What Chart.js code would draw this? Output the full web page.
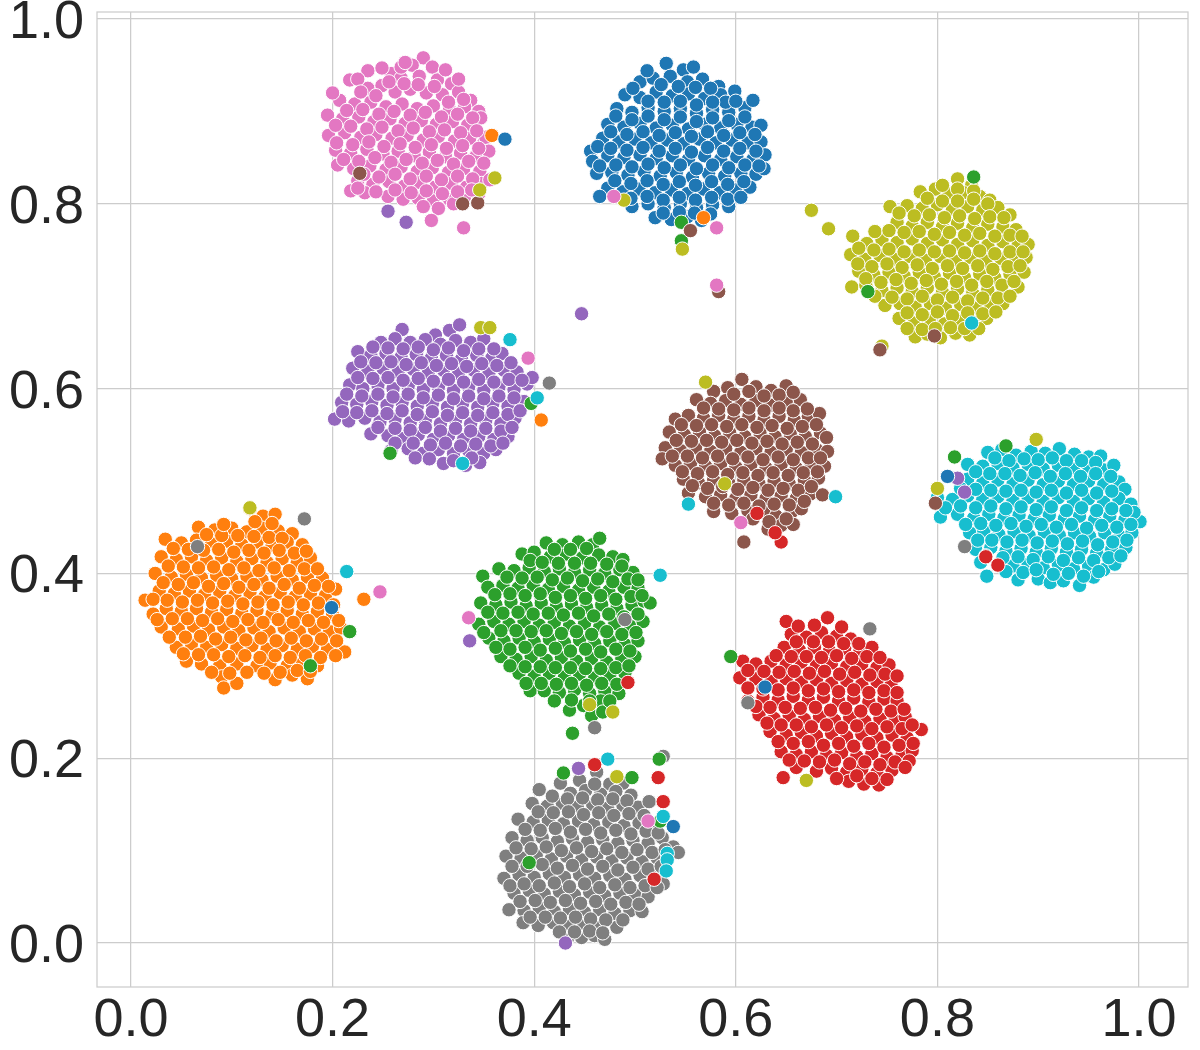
<!DOCTYPE html>
<html lang="en">
<head>
<meta charset="UTF-8">
<title>Cluster scatter</title>
<script src="https://cdn.jsdelivr.net/npm/chart.js"></script>
<style>
  html, body { margin: 0; padding: 0; background: #fff; }
  #wrap { width: 1200px; height: 1050px; }
</style>
</head>
<body>
<div id="wrap"><canvas id="chart" width="1200" height="1050"></canvas></div>
<script>
const xTicks = [0, 0.2, 0.4, 0.6, 0.8, 1.0];
const yTicks = [0, 0.2, 0.4, 0.6, 0.8, 1.0];

// main blobs
const pinkPts = [[.290,.958],[.279,.950],[.299,.948],[.258,.941],[.268,.936],[.286,.938],[.304,.934],[.318,.930],
[.217,.934],[.235,.925],[.249,.928],[.262,.921],[.277,.924],[.293,.920],[.309,.918],[.325,.921],[.337,.912],
[.207,.912],[.222,.908],[.238,.910],[.253,.905],[.269,.908],[.284,.903],[.300,.906],[.316,.902],[.331,.905],[.345,.900],
[.195,.896],[.210,.892],[.226,.894],[.241,.889],[.257,.892],[.272,.887],[.288,.890],[.303,.886],[.319,.889],[.334,.885],[.347,.893],
[.196,.874],[.212,.877],[.228,.872],[.243,.875],[.259,.871],[.274,.874],[.290,.869],[.305,.873],[.321,.868],[.336,.871],[.350,.866],[.352,.872],
[.203,.858],[.218,.855],[.234,.859],[.250,.854],[.265,.857],[.281,.852],[.296,.856],[.312,.851],[.327,.855],[.342,.851],[.355,.857],
[.205,.842],[.221,.838],[.237,.841],[.253,.837],[.268,.840],[.284,.835],[.299,.839],[.315,.834],[.330,.838],[.346,.835],
[.225,.825],[.240,.821],[.256,.824],[.271,.819],[.287,.823],[.302,.818],[.318,.822],[.333,.818],[.348,.822],[.356,.826],
[.218,.814],[.232,.812],[.255,.808],[.270,.805],[.285,.806],[.300,.803],[.316,.805],[.331,.808],[.345,.811],[.290,.797],[.305,.795],[.320,.800]];
const pinkFill = [[.235,.944],[.249,.947],[.200,.920],[.225,.935],[.268,.948],[.272,.953],[.312,.945],[.325,.935],
[.228,.921],[.243,.917],[.256,.932],[.271,.930],[.285,.929],[.301,.927],[.315,.910],[.330,.913],
[.214,.901],[.230,.902],[.246,.897],[.261,.900],[.277,.896],[.292,.899],[.308,.894],[.324,.897],[.339,.893],
[.203,.885],[.218,.884],[.234,.881],[.249,.883],[.265,.879],[.280,.882],[.296,.878],[.311,.880],[.327,.877],[.343,.879],
[.204,.866],[.220,.864],[.236,.867],[.251,.862],[.267,.865],[.282,.861],[.298,.864],[.313,.860],[.329,.863],[.345,.860],
[.211,.848],[.226,.846],[.242,.850],[.258,.845],[.273,.848],[.289,.844],[.304,.847],[.320,.843],[.335,.846],[.350,.844],
[.231,.832],[.246,.829],[.262,.832],[.277,.827],[.293,.830],[.308,.826],[.324,.830],[.339,.827],
[.225,.817],[.243,.813],[.262,.815],[.278,.812],[.293,.814],[.309,.811],[.324,.813],[.338,.815]];

const bluePts = [[.531,.952],[.548,.945],[.558,.948],[.505,.932],[.518,.936],[.535,.938],[.552,.932],[.567,.935],[.583,.927],
[.490,.918],[.505,.915],[.521,.921],[.537,.917],[.553,.919],[.569,.914],[.585,.918],[.599,.922],
[.482,.903],[.497,.899],[.513,.904],[.529,.900],[.545,.903],[.561,.898],[.577,.902],[.593,.899],[.609,.904],[.617,.912],
[.473,.886],[.489,.883],[.505,.887],[.521,.882],[.537,.885],[.553,.881],[.569,.886],[.585,.882],[.601,.886],[.616,.883],[.625,.885],
[.468,.871],[.484,.867],[.500,.870],[.516,.866],[.532,.869],[.548,.865],[.564,.870],[.580,.866],[.596,.869],[.612,.866],[.625,.867],
[.456,.857],[.458,.846],[.473,.852],[.489,.850],[.505,.853],[.521,.849],[.537,.852],[.553,.848],[.569,.852],[.585,.848],[.601,.851],[.617,.848],[.629,.853],
[.462,.833],[.477,.834],[.493,.831],[.509,.835],[.525,.830],[.541,.834],[.557,.829],[.573,.833],[.589,.830],[.605,.833],[.620,.832],[.628,.838],
[.473,.817],[.488,.813],[.504,.816],[.520,.812],[.536,.815],[.552,.811],[.568,.816],[.584,.812],[.600,.815],[.614,.818],
[.465,.808],[.497,.797],[.513,.800],[.529,.796],[.545,.800],[.561,.796],[.577,.799],[.593,.797],[.520,.785],[.536,.783],[.552,.786],[.566,.782]];
const blueFill = [[.512,.944],[.526,.929],[.543,.927],[.560,.926],[.575,.925],[.590,.910],
[.498,.925],[.513,.911],[.529,.910],[.545,.911],[.561,.907],[.577,.910],[.600,.911],
[.481,.895],[.497,.891],[.513,.895],[.529,.891],[.545,.894],[.561,.889],[.577,.893],[.593,.890],[.609,.894],
[.476,.878],[.492,.875],[.508,.878],[.524,.874],[.540,.877],[.556,.873],[.572,.878],[.588,.874],[.604,.877],[.619,.875],
[.463,.862],[.476,.860],[.492,.858],[.508,.861],[.524,.857],[.540,.860],[.556,.856],[.572,.861],[.588,.857],[.604,.860],[.620,.857],
[.465,.841],[.481,.842],[.497,.840],[.513,.843],[.529,.839],[.545,.842],[.561,.838],[.577,.842],[.593,.839],[.609,.842],[.623,.841],
[.480,.825],[.496,.822],[.512,.825],[.528,.821],[.544,.824],[.560,.820],[.576,.824],[.592,.821],[.608,.824],
[.496,.806],[.512,.808],[.528,.804],[.544,.807],[.560,.804],[.576,.807],[.592,.805],[.605,.807],
[.528,.790],[.544,.791],[.559,.790],[.575,.789]];

const olivePts = [[.820,.827],[.834,.820],[.783,.813],[.798,.816],[.812,.811],[.826,.812],[.842,.808],[.852,.804],
[.753,.797],[.770,.798],[.785,.795],[.800,.799],[.815,.794],[.830,.797],[.845,.793],[.860,.796],[.872,.788],
[.760,.780],[.775,.776],[.790,.780],[.805,.775],[.820,.779],[.835,.774],[.850,.778],[.865,.775],[.878,.772],
[.716,.765],[.730,.757],[.745,.761],[.760,.758],[.775,.762],[.790,.757],[.805,.761],[.820,.756],[.835,.760],[.850,.755],[.865,.759],[.880,.755],[.890,.756],
[.714,.745],[.728,.740],[.743,.744],[.758,.740],[.773,.743],[.788,.739],[.803,.743],[.818,.738],[.833,.742],[.848,.738],[.863,.741],[.878,.738],[.888,.742],
[.722,.727],[.737,.723],[.752,.726],[.767,.722],[.782,.726],[.797,.721],[.812,.725],[.827,.720],[.842,.724],[.857,.720],[.872,.724],[.886,.726],
[.715,.710],[.729,.712],[.745,.706],[.760,.709],[.775,.705],[.790,.709],[.805,.704],[.820,.708],[.835,.703],[.850,.707],[.865,.703],[.880,.710],
[.748,.690],[.763,.692],[.778,.688],[.793,.692],[.808,.687],[.823,.691],[.838,.687],[.853,.690],[.865,.692],
[.762,.676],[.777,.671],[.792,.675],[.807,.670],[.822,.674],[.837,.671],[.849,.676],
[.778,.656],[.790,.659],[.803,.655],[.818,.660],[.832,.658],[.675,.793],[.692,.773],[.745,.646]];
const oliveFill = [[.805,.820],[.820,.816],[.836,.814],[.790,.806],[.805,.803],[.820,.803],[.836,.805],[.850,.800],
[.762,.790],[.777,.787],[.792,.788],[.807,.785],[.822,.787],[.837,.784],[.852,.786],[.866,.785],
[.738,.770],[.752,.771],[.767,.769],[.782,.770],[.797,.767],[.812,.769],[.827,.766],[.842,.768],[.857,.765],[.872,.766],[.884,.765],
[.722,.752],[.737,.750],[.752,.751],[.767,.748],[.782,.750],[.797,.748],[.812,.749],[.827,.747],[.842,.749],[.857,.746],[.872,.748],[.885,.748],
[.721,.735],[.735,.732],[.750,.735],[.765,.731],[.780,.734],[.795,.730],[.810,.733],[.825,.730],[.840,.733],[.855,.729],[.870,.732],[.882,.733],
[.729,.719],[.744,.715],[.759,.718],[.774,.714],[.789,.717],[.804,.713],[.819,.716],[.834,.712],[.849,.716],[.864,.712],[.876,.716],
[.738,.700],[.755,.699],[.770,.697],[.785,.700],[.800,.696],[.815,.699],[.830,.695],[.845,.698],[.860,.698],[.872,.700],
[.770,.682],[.785,.680],[.800,.683],[.815,.679],[.830,.682],[.845,.681],[.858,.683],
[.770,.665],[.785,.664],[.798,.665],[.813,.666],[.827,.665],[.841,.665]];

const purplePts = [[.269,.664],[.316,.663],[.326,.669],[.302,.658],[.248,.650],[.262,.654],[.277,.650],[.292,.653],[.307,.648],[.322,.652],[.337,.650],[.350,.654],
[.225,.640],[.238,.636],[.253,.638],[.268,.634],[.283,.637],[.298,.633],[.313,.636],[.328,.632],[.343,.636],[.358,.633],[.368,.638],
[.220,.622],[.235,.619],[.250,.622],[.265,.618],[.280,.621],[.295,.617],[.310,.620],[.325,.616],[.340,.620],[.355,.616],[.370,.620],[.383,.618],
[.217,.604],[.230,.600],[.245,.604],[.260,.600],[.275,.603],[.290,.599],[.305,.602],[.320,.598],[.335,.602],[.350,.598],[.365,.602],[.380,.599],[.393,.605],[.398,.612],
[.209,.585],[.224,.583],[.239,.586],[.254,.582],[.269,.585],[.284,.581],[.299,.584],[.314,.580],[.329,.584],[.344,.580],[.359,.584],[.374,.581],[.390,.586],
[.202,.567],[.216,.565],[.232,.568],[.247,.564],[.262,.567],[.277,.563],[.292,.566],[.307,.562],[.322,.566],[.337,.562],[.352,.566],[.367,.562],[.381,.568],
[.238,.551],[.255,.549],[.270,.546],[.285,.550],[.300,.545],[.315,.549],[.330,.545],[.345,.548],[.360,.545],[.374,.548],
[.258,.533],[.275,.535],[.290,.530],[.305,.534],[.320,.530],[.335,.533],[.350,.530],[.362,.534],[.282,.525],[.310,.519],[.332,.517],[.346,.520],[.447,.681]];
const purpleFill = [[.240,.645],[.255,.644],[.270,.643],[.285,.645],[.300,.642],[.315,.644],[.330,.641],[.345,.643],[.360,.643],
[.228,.629],[.243,.628],[.258,.629],[.273,.626],[.288,.628],[.303,.625],[.318,.627],[.333,.624],[.348,.627],[.363,.625],[.377,.628],
[.225,.612],[.240,.611],[.255,.612],[.270,.609],[.285,.611],[.300,.608],[.315,.610],[.330,.607],[.345,.610],[.360,.607],[.375,.610],[.388,.609],
[.214,.594],[.229,.592],[.245,.594],[.260,.591],[.275,.594],[.290,.590],[.305,.593],[.320,.589],[.335,.592],[.350,.589],[.365,.592],[.380,.590],
[.210,.575],[.224,.574],[.239,.576],[.254,.573],[.269,.576],[.284,.572],[.299,.575],[.314,.571],[.329,.574],[.344,.571],[.359,.574],[.374,.572],[.386,.576],
[.245,.558],[.262,.557],[.277,.555],[.292,.558],[.307,.554],[.322,.557],[.337,.554],[.352,.557],[.367,.554],[.378,.558],
[.262,.541],[.280,.541],[.297,.539],[.312,.541],[.327,.538],[.342,.540],[.357,.538],[.369,.541],
[.296,.524],[.320,.522],[.338,.525]];

const brownPts = [[.578,.597],[.592,.601],[.606,.610],[.620,.602],[.635,.598],[.650,.603],
[.561,.588],[.575,.584],[.590,.587],[.605,.583],[.620,.587],[.635,.582],[.650,.586],[.664,.588],
[.540,.567],[.553,.571],[.568,.568],[.583,.571],[.598,.567],[.613,.570],[.628,.566],[.643,.570],[.658,.566],[.672,.570],[.683,.573],
[.534,.553],[.549,.550],[.564,.553],[.579,.549],[.594,.552],[.609,.548],[.624,.552],[.639,.548],[.654,.551],[.669,.548],[.684,.552],[.690,.547],
[.530,.536],[.545,.533],[.560,.536],[.575,.532],[.590,.535],[.605,.531],[.620,.535],[.635,.531],[.650,.534],[.665,.531],[.680,.534],[.691,.532],
[.527,.524],[.540,.517],[.555,.519],[.570,.516],[.585,.519],[.600,.515],[.615,.518],[.630,.514],[.645,.518],[.660,.514],[.675,.518],[.688,.516],
[.548,.502],[.563,.498],[.578,.501],[.593,.498],[.608,.501],[.623,.497],[.638,.500],[.653,.497],[.668,.501],[.682,.503],
[.553,.487],[.570,.483],[.585,.485],[.600,.481],[.615,.485],[.630,.481],[.645,.484],[.660,.481],[.674,.486],[.686,.485],
[.578,.467],[.596,.465],[.612,.468],[.628,.466],[.640,.462],[.655,.466],[.665,.470],[.645,.452],[.657,.453],[.632,.448],[.608,.434]];
const brownFill = [[.598,.594],[.613,.597],[.628,.592],[.643,.593],[.657,.596],
[.568,.579],[.583,.578],[.598,.577],[.613,.579],[.628,.576],[.643,.579],[.657,.576],[.671,.578],
[.546,.561],[.561,.560],[.576,.561],[.591,.559],[.606,.561],[.621,.558],[.636,.560],[.651,.557],[.666,.559],[.680,.561],
[.541,.544],[.556,.543],[.571,.544],[.586,.542],[.601,.544],[.616,.541],[.631,.543],[.646,.540],[.661,.542],[.676,.540],
[.537,.527],[.552,.527],[.567,.525],[.582,.527],[.597,.524],[.612,.526],[.627,.523],[.642,.526],[.657,.523],[.672,.525],[.684,.525],
[.547,.510],[.562,.508],[.577,.510],[.592,.507],[.607,.509],[.622,.506],[.637,.509],[.652,.506],[.667,.509],[.681,.510],
[.557,.495],[.572,.492],[.587,.494],[.602,.491],[.617,.493],[.632,.490],[.647,.492],[.662,.490],[.675,.494],
[.578,.476],[.593,.474],[.608,.476],[.623,.473],[.638,.475],[.653,.474],[.668,.478],
[.617,.459],[.633,.456],[.650,.459]];

const cyanPts = [[.850,.531],[.864,.534],[.878,.528],[.893,.532],[.907,.530],[.921,.535],[.936,.529],[.950,.526],[.962,.527],
[.830,.518],[.845,.516],[.860,.519],[.875,.514],[.890,.518],[.905,.513],[.920,.517],[.935,.513],[.950,.516],[.965,.512],[.975,.517],
[.830,.502],[.845,.498],[.860,.501],[.875,.497],[.890,.501],[.905,.496],[.920,.500],[.935,.496],[.950,.500],[.965,.496],[.980,.499],[.986,.491],
[.800,.482],[.815,.480],[.830,.484],[.845,.480],[.860,.483],[.875,.479],[.890,.482],[.905,.478],[.920,.482],[.935,.478],[.950,.481],[.965,.477],[.980,.481],[.992,.475],
[.803,.461],[.820,.464],[.836,.460],[.851,.464],[.866,.460],[.881,.463],[.896,.459],[.911,.463],[.926,.459],[.941,.462],[.956,.458],[.971,.462],[.986,.458],[1.001,.456],[.995,.466],
[.832,.444],[.846,.446],[.861,.442],[.876,.445],[.891,.441],[.906,.445],[.921,.441],[.936,.444],[.951,.440],[.966,.444],[.981,.440],[.993,.444],
[.838,.426],[.853,.428],[.868,.424],[.883,.427],[.898,.423],[.913,.427],[.928,.423],[.943,.426],[.958,.422],[.973,.426],[.987,.428],
[.843,.412],[.860,.409],[.875,.408],[.890,.410],[.905,.406],[.920,.409],[.935,.405],[.950,.408],[.965,.404],[.976,.410],
[.849,.397],[.880,.393],[.900,.394],[.912,.390],[.925,.392],[.941,.387],[.955,.396]];
const cyanFill = [[.857,.525],[.871,.522],[.886,.524],[.900,.523],[.914,.525],[.928,.522],[.943,.522],[.957,.520],
[.838,.510],[.852,.508],[.867,.508],[.882,.506],[.897,.509],[.912,.505],[.927,.508],[.942,.505],[.957,.508],[.972,.505],
[.823,.492],[.838,.491],[.853,.490],[.868,.489],[.883,.490],[.898,.488],[.913,.490],[.928,.487],[.943,.490],[.958,.487],[.973,.489],
[.808,.471],[.823,.473],[.838,.471],[.853,.473],[.868,.470],[.883,.472],[.898,.469],[.913,.472],[.928,.468],[.943,.471],[.958,.468],[.973,.470],[.987,.468],
[.828,.453],[.843,.454],[.858,.452],[.873,.454],[.888,.451],[.903,.453],[.918,.450],[.933,.453],[.948,.449],[.963,.452],[.978,.450],[.992,.453],
[.840,.436],[.854,.436],[.869,.434],[.884,.436],[.899,.433],[.914,.435],[.929,.432],[.944,.435],[.959,.431],[.974,.434],[.988,.436],
[.848,.419],[.865,.417],[.880,.418],[.895,.415],[.910,.418],[.925,.414],[.940,.417],[.955,.414],[.970,.417],[.982,.419],
[.868,.402],[.885,.401],[.898,.404],[.915,.399],[.930,.400],[.945,.397],[.960,.402]];

const orangePts = [[.118,.470],[.131,.462],[.143,.464],[.067,.450],[.083,.447],[.100,.449],[.115,.445],[.130,.449],[.146,.446],[.160,.443],
[.034,.437],[.050,.433],[.065,.436],[.080,.432],[.095,.435],[.110,.431],[.125,.434],[.140,.430],[.155,.434],[.170,.431],
[.030,.418],[.045,.415],[.060,.418],[.075,.414],[.090,.417],[.105,.413],[.120,.416],[.135,.412],[.150,.416],[.165,.412],[.178,.417],
[.024,.400],[.040,.396],[.055,.399],[.070,.395],[.085,.398],[.100,.394],[.115,.397],[.130,.393],[.145,.397],[.160,.393],[.175,.396],[.190,.395],
[.028,.381],[.043,.378],[.058,.381],[.073,.377],[.088,.380],[.103,.376],[.118,.379],[.133,.375],[.148,.379],[.163,.375],[.178,.378],[.193,.376],[.203,.383],
[.014,.371],[.022,.356],[.035,.362],[.050,.359],[.065,.362],[.080,.358],[.095,.361],[.110,.357],[.125,.360],[.140,.356],[.155,.360],[.170,.356],[.185,.359],[.200,.355],[.231,.372],
[.030,.342],[.047,.340],[.062,.343],[.077,.339],[.092,.342],[.107,.338],[.122,.341],[.137,.337],[.152,.341],[.167,.337],[.182,.340],[.197,.337],[.208,.341],
[.045,.320],[.060,.324],[.075,.320],[.090,.323],[.105,.319],[.120,.322],[.135,.318],[.150,.322],[.165,.318],[.180,.321],[.195,.318],[.212,.315],
[.055,.305],[.070,.302],[.088,.300],[.105,.302],[.125,.300],[.138,.303],[.155,.300],[.170,.303],[.185,.300],
[.090,.288],[.092,.276],[.105,.281],[.143,.285],[.160,.290],[.175,.286]];
const orangeFill = [[.075,.442],[.090,.441],[.106,.441],[.122,.440],[.137,.439],[.150,.438],[.123,.456],[.140,.454],[.092,.453],
[.042,.427],[.057,.426],[.072,.425],[.087,.426],[.102,.423],[.117,.425],[.132,.422],[.147,.425],[.162,.422],[.174,.424],
[.037,.408],[.052,.407],[.067,.406],[.082,.407],[.097,.404],[.112,.406],[.127,.403],[.142,.406],[.157,.403],[.172,.405],[.185,.405],
[.032,.390],[.047,.388],[.062,.390],[.077,.386],[.092,.389],[.107,.385],[.122,.388],[.137,.384],[.152,.388],[.167,.384],[.182,.387],[.196,.386],
[.022,.372],[.036,.371],[.051,.369],[.066,.371],[.081,.368],[.096,.370],[.111,.367],[.126,.369],[.141,.366],[.156,.369],[.171,.366],[.186,.368],[.201,.366],
[.026,.350],[.041,.351],[.056,.351],[.071,.349],[.086,.351],[.101,.348],[.116,.350],[.131,.347],[.146,.350],[.161,.347],[.176,.349],[.191,.347],[.206,.349],
[.038,.331],[.054,.331],[.069,.332],[.084,.329],[.099,.331],[.114,.328],[.129,.330],[.144,.327],[.159,.330],[.174,.327],[.189,.329],[.204,.327],
[.052,.313],[.067,.312],[.082,.312],[.097,.310],[.113,.311],[.128,.309],[.143,.311],[.158,.309],[.173,.311],[.188,.309],[.203,.311],
[.080,.293],[.098,.292],[.115,.293],[.132,.292],[.148,.293],[.165,.295],[.178,.294]];

const greenPts = [[.412,.433],[.428,.431],[.444,.434],[.458,.431],[.465,.438],[.388,.421],[.400,.423],[.416,.418],[.432,.421],[.448,.417],[.464,.420],[.478,.418],[.488,.415],
[.365,.405],[.380,.403],[.395,.406],[.410,.402],[.425,.405],[.440,.401],[.455,.404],[.470,.400],[.485,.404],[.498,.401],
[.349,.397],[.354,.385],[.369,.387],[.384,.384],[.399,.387],[.414,.383],[.429,.386],[.444,.382],[.459,.385],[.474,.381],[.489,.385],[.503,.384],
[.347,.368],[.362,.366],[.377,.369],[.392,.365],[.407,.368],[.422,.364],[.437,.367],[.452,.363],[.467,.366],[.482,.362],[.497,.366],[.509,.370],[.515,.368],
[.345,.345],[.360,.348],[.375,.345],[.390,.348],[.405,.344],[.420,.347],[.435,.343],[.450,.346],[.465,.342],[.480,.346],[.495,.343],[.508,.348],
[.355,.330],[.370,.327],[.385,.330],[.400,.326],[.415,.329],[.430,.325],[.445,.328],[.460,.324],[.475,.327],[.490,.323],[.503,.327],
[.367,.310],[.382,.307],[.397,.310],[.412,.306],[.427,.309],[.442,.305],[.457,.308],[.472,.304],[.487,.308],[.500,.310],
[.385,.292],[.400,.289],[.415,.292],[.430,.288],[.445,.291],[.460,.287],[.475,.290],[.490,.292],
[.396,.273],[.410,.273],[.425,.271],[.440,.274],[.455,.270],[.470,.273],[.484,.270],
[.435,.252],[.449,.257],[.466,.262],[.457,.246],[.468,.250],[.438,.227]];
const greenFill = [[.420,.426],[.436,.426],[.452,.427],[.396,.414],[.408,.412],[.424,.411],[.440,.411],[.456,.411],[.472,.410],[.487,.408],
[.373,.396],[.388,.395],[.403,.396],[.418,.393],[.433,.395],[.448,.392],[.463,.394],[.478,.391],[.493,.394],[.503,.393],
[.361,.377],[.376,.378],[.391,.376],[.406,.378],[.421,.374],[.436,.376],[.451,.373],[.466,.376],[.481,.372],[.496,.375],[.507,.376],
[.354,.358],[.369,.357],[.384,.358],[.399,.356],[.414,.357],[.429,.355],[.444,.357],[.459,.354],[.474,.356],[.489,.353],[.503,.356],
[.350,.336],[.367,.338],[.382,.338],[.397,.337],[.412,.338],[.427,.335],[.442,.337],[.457,.334],[.472,.337],[.487,.334],[.501,.336],
[.362,.320],[.376,.318],[.391,.320],[.406,.317],[.421,.319],[.436,.316],[.451,.318],[.466,.315],[.481,.318],[.495,.316],
[.376,.300],[.391,.299],[.406,.299],[.421,.298],[.436,.298],[.451,.297],[.466,.297],[.481,.298],[.494,.300],
[.392,.281],[.407,.281],[.422,.280],[.437,.281],[.452,.279],[.467,.281],[.482,.280],
[.420,.262],[.437,.263],[.455,.262],[.475,.262]];

const redPts = [[.650,.348],[.691,.352],[.655,.334],[.670,.331],[.685,.336],[.700,.332],[.714,.329],
[.648,.320],[.663,.317],[.678,.320],[.693,.316],[.708,.319],[.723,.315],[.735,.320],
[.607,.305],[.620,.302],[.635,.305],[.650,.301],[.665,.304],[.680,.300],[.695,.303],[.710,.299],[.725,.302],[.740,.298],[.752,.301],
[.604,.287],[.620,.286],[.635,.283],[.650,.286],[.665,.282],[.680,.285],[.695,.281],[.710,.284],[.725,.280],[.740,.283],[.754,.279],
[.612,.262],[.627,.266],[.642,.263],[.657,.267],[.672,.263],[.687,.266],[.702,.262],[.717,.265],[.732,.261],[.747,.264],[.760,.262],
[.623,.247],[.638,.243],[.653,.246],[.668,.242],[.683,.245],[.698,.241],[.713,.244],[.728,.240],[.743,.243],[.758,.240],[.768,.245],
[.634,.229],[.650,.225],[.665,.228],[.680,.224],[.695,.227],[.710,.223],[.725,.226],[.740,.222],[.755,.225],[.770,.222],[.784,.231],
[.645,.207],[.660,.204],[.675,.207],[.690,.203],[.705,.206],[.720,.202],[.735,.205],[.750,.201],[.765,.204],[.775,.208],
[.660,.190],[.680,.186],[.695,.189],[.710,.185],[.725,.188],[.740,.184],[.755,.187],[.772,.197],
[.647,.179],[.712,.175],[.727,.172],[.742,.171],[.735,.178]];
const redFill = [[.662,.343],[.678,.344],[.705,.342],[.660,.326],[.677,.326],[.692,.326],[.707,.324],[.722,.324],
[.640,.311],[.655,.310],[.670,.310],[.685,.309],[.700,.311],[.715,.308],[.730,.310],[.743,.309],
[.612,.295],[.628,.294],[.643,.293],[.658,.294],[.673,.292],[.688,.294],[.703,.291],[.718,.293],[.733,.290],[.748,.291],[.760,.289],
[.612,.276],[.627,.275],[.642,.274],[.657,.276],[.672,.273],[.687,.275],[.702,.272],[.717,.274],[.732,.271],[.747,.273],[.760,.271],
[.620,.256],[.634,.255],[.649,.255],[.664,.254],[.679,.255],[.694,.252],[.709,.254],[.724,.251],[.739,.253],[.754,.251],[.767,.253],
[.631,.238],[.645,.236],[.660,.236],[.675,.234],[.690,.236],[.705,.233],[.720,.235],[.735,.232],[.750,.234],[.765,.232],[.775,.236],
[.642,.218],[.657,.216],[.672,.218],[.687,.214],[.702,.216],[.717,.213],[.732,.216],[.747,.212],[.762,.214],[.776,.216],
[.653,.198],[.668,.197],[.683,.196],[.698,.198],[.713,.194],[.728,.196],[.743,.193],[.758,.196],[.768,.190],
[.700,.178],[.720,.181],[.750,.177]];

const grayPts = [[.462,.185],[.445,.176],[.475,.172],[.488,.173],[.405,.166],[.426,.173],[.436,.162],[.451,.165],[.466,.161],[.481,.164],[.496,.160],
[.398,.151],[.413,.148],[.428,.151],[.443,.147],[.458,.150],[.473,.146],[.488,.149],[.503,.147],[.514,.153],
[.384,.134],[.399,.131],[.414,.133],[.429,.129],[.444,.132],[.459,.128],[.474,.131],[.489,.127],[.504,.130],[.519,.127],
[.378,.114],[.393,.111],[.408,.114],[.423,.110],[.438,.113],[.453,.109],[.468,.112],[.483,.108],[.498,.111],[.513,.108],[.527,.114],
[.372,.094],[.387,.092],[.402,.095],[.417,.091],[.432,.094],[.447,.090],[.462,.093],[.477,.089],[.492,.092],[.507,.088],[.522,.092],[.538,.104],[.543,.098],
[.370,.070],[.385,.074],[.400,.071],[.415,.075],[.430,.071],[.445,.074],[.460,.070],[.475,.073],[.490,.069],[.505,.073],[.520,.075],[.528,.064],
[.380,.054],[.395,.057],[.410,.053],[.425,.056],[.440,.052],[.455,.055],[.470,.051],[.485,.054],[.500,.052],[.513,.050],
[.375,.036],[.390,.035],[.405,.038],[.420,.034],[.435,.037],[.450,.033],[.465,.036],[.480,.032],[.495,.035],[.507,.034],
[.389,.022],[.404,.019],[.419,.022],[.434,.018],[.449,.021],[.464,.017],[.482,.017],[.433,.005],[.447,.006],[.460,.008],[.470,.004]];
const grayFill = [[.460,.172],[.418,.159],[.433,.156],[.448,.157],[.463,.155],[.478,.156],[.492,.154],[.404,.142],[.419,.141],[.434,.142],[.449,.139],[.464,.141],[.479,.138],[.494,.140],[.509,.138],
[.391,.123],[.406,.122],[.421,.124],[.436,.120],[.451,.123],[.466,.119],[.481,.122],[.496,.118],[.511,.121],[.523,.119],
[.382,.103],[.397,.102],[.412,.104],[.427,.100],[.442,.103],[.457,.099],[.472,.102],[.487,.098],[.502,.101],[.517,.098],[.530,.101],
[.378,.083],[.393,.083],[.408,.085],[.423,.081],[.438,.084],[.453,.080],[.468,.083],[.483,.079],[.498,.082],[.513,.080],[.526,.083],
[.376,.062],[.390,.064],[.405,.062],[.420,.065],[.435,.061],[.450,.064],[.465,.060],[.480,.063],[.495,.060],[.510,.062],[.522,.060],
[.386,.045],[.401,.046],[.416,.044],[.431,.046],[.446,.043],[.461,.045],[.476,.042],[.491,.044],[.504,.042],
[.396,.028],[.411,.028],[.426,.027],[.441,.028],[.456,.026],[.471,.025],[.488,.025],
[.425,.012],[.440,.012],[.455,.013],[.468,.011]];

// strays sitting on top of or next to another colour's blob
const pinkStray = [[.298,.782],[.330,.774],[.479,.808],[.581,.774],[.581,.712],[.394,.633],[.605,.455],[.247,.380],[.335,.352],[.513,.132]];
const blueStray = [[.371,.870],[.810,.505],[.199,.363],[.629,.277],[.538,.126]];
const oliveStray = [[.346,.815],[.361,.828],[.489,.804],[.547,.751],[.347,.666],[.356,.666],[.570,.607],[.589,.497],[.898,.545],[.800,.492],[.118,.471],[.478,.250],[.455,.258],[.670,.176],[.482,.180]];
const purpleStray = [[.255,.792],[.273,.780],[.820,.503],[.827,.488],[.336,.327],[.444,.189],[.431,.000]];
const brownStray = [[.227,.833],[.329,.800],[.344,.801],[.555,.771],[.583,.705],[.743,.642],[.797,.657],[.798,.476]];
const cyanStray = [[.834,.671],[.376,.653],[.403,.590],[.329,.519],[.553,.475],[.699,.483],[.214,.402],[.525,.398],[.473,.199],[.528,.137],[.532,.097],[.532,.090],[.531,.078]];
const orangeStray = [[.358,.874],[.568,.785],[.407,.566]];
const greenStray = [[.546,.780],[.546,.760],[.836,.829],[.731,.705],[.397,.584],[.257,.530],[.817,.526],[.868,.538],[.217,.337],[.178,.300],[.595,.310],[.429,.184],[.497,.179],[.524,.199],[.525,.132],[.395,.087]];
const redStray = [[.645,.434],[.621,.465],[.639,.444],[.848,.418],[.860,.409],[.493,.282],[.460,.193],[.523,.179],[.528,.153],[.519,.069]];
const grayStray = [[.415,.606],[.172,.459],[.066,.429],[.827,.429],[.460,.233],[.490,.350],[.733,.340],[.612,.260],[.528,.202]];

const palette = {
  blue: '#1f77b4', orange: '#ff7f0e', green: '#2ca02c', red: '#d62728', purple: '#9467bd',
  brown: '#8c564b', pink: '#e377c2', gray: '#7f7f7f', olive: '#bcbd22', cyan: '#17becf'
};

function toPoints(list) {
  return list.map(p => ({ x: p[0], y: p[1] }));
}

function makeSet(list, color) {
  return {
    data: toPoints(list),
    showLine: false,
    pointRadius: 7.2,
    pointBorderWidth: 1,
    pointBorderColor: '#ffffff',
    pointBackgroundColor: color
  };
}

// first dataset ends up on top, so the strays go first
const datasets = [
  makeSet(pinkStray, palette.pink), makeSet(blueStray, palette.blue), makeSet(oliveStray, palette.olive),
  makeSet(purpleStray, palette.purple), makeSet(brownStray, palette.brown), makeSet(cyanStray, palette.cyan),
  makeSet(orangeStray, palette.orange), makeSet(greenStray, palette.green), makeSet(redStray, palette.red),
  makeSet(grayStray, palette.gray),
  makeSet(pinkFill, palette.pink), makeSet(blueFill, palette.blue), makeSet(oliveFill, palette.olive),
  makeSet(purpleFill, palette.purple), makeSet(brownFill, palette.brown), makeSet(cyanFill, palette.cyan),
  makeSet(orangeFill, palette.orange), makeSet(greenFill, palette.green), makeSet(redFill, palette.red),
  makeSet(grayFill, palette.gray),
  makeSet(pinkPts, palette.pink), makeSet(bluePts, palette.blue), makeSet(olivePts, palette.olive),
  makeSet(purplePts, palette.purple), makeSet(brownPts, palette.brown), makeSet(cyanPts, palette.cyan),
  makeSet(orangePts, palette.orange), makeSet(greenPts, palette.green), makeSet(redPts, palette.red),
  makeSet(grayPts, palette.gray)
];

// seaborn whitegrid look: light frame on all four sides
const frame = {
  id: 'frame',
  beforeDatasetsDraw(chart) {
    const a = chart.chartArea, c = chart.ctx;
    c.save();
    c.strokeStyle = '#cccccc';
    c.lineWidth = 1.25;
    c.strokeRect(a.left, a.top, a.right - a.left, a.bottom - a.top);
    c.restore();
  }
};

const tickFont = { family: '"Liberation Sans", Arial, sans-serif', size: 54 };

// the big tick labels must not push the plot area in
function noPadding(s) {
  s.paddingTop = 0; s.paddingBottom = 0; s.paddingLeft = 0; s.paddingRight = 0;
}

new Chart(document.getElementById('chart').getContext('2d'), {
  type: 'scatter',
  data: { datasets: datasets },
  plugins: [frame],
  options: {
    responsive: false,
    animation: false,
    layout: { padding: { top: 12, right: 12, left: 0, bottom: 0 } },
    plugins: { legend: { display: false }, tooltip: { enabled: false } },
    scales: {
      x: {
        min: -0.0337,
        max: 1.0486,
        afterBuildTicks: s => { s.ticks = xTicks.map(v => ({ value: v })); },
        afterFit: s => { s.height = 63; noPadding(s); },
        grid: { color: '#cccccc', lineWidth: 1.25, drawTicks: false },
        border: { display: false },
        ticks: { color: '#262626', font: tickFont, padding: 2, maxRotation: 0, callback: v => v.toFixed(1) }
      },
      y: {
        min: -0.0476,
        max: 1.0076,
        afterBuildTicks: s => { s.ticks = yTicks.map(v => ({ value: v })); },
        afterFit: s => { s.width = 97; noPadding(s); },
        grid: { color: '#cccccc', lineWidth: 1.25, drawTicks: false },
        border: { display: false },
        ticks: { color: '#262626', font: tickFont, padding: 13, labelOffset: 4, callback: v => v.toFixed(1) }
      }
    }
  }
});
</script>
</body>
</html>
